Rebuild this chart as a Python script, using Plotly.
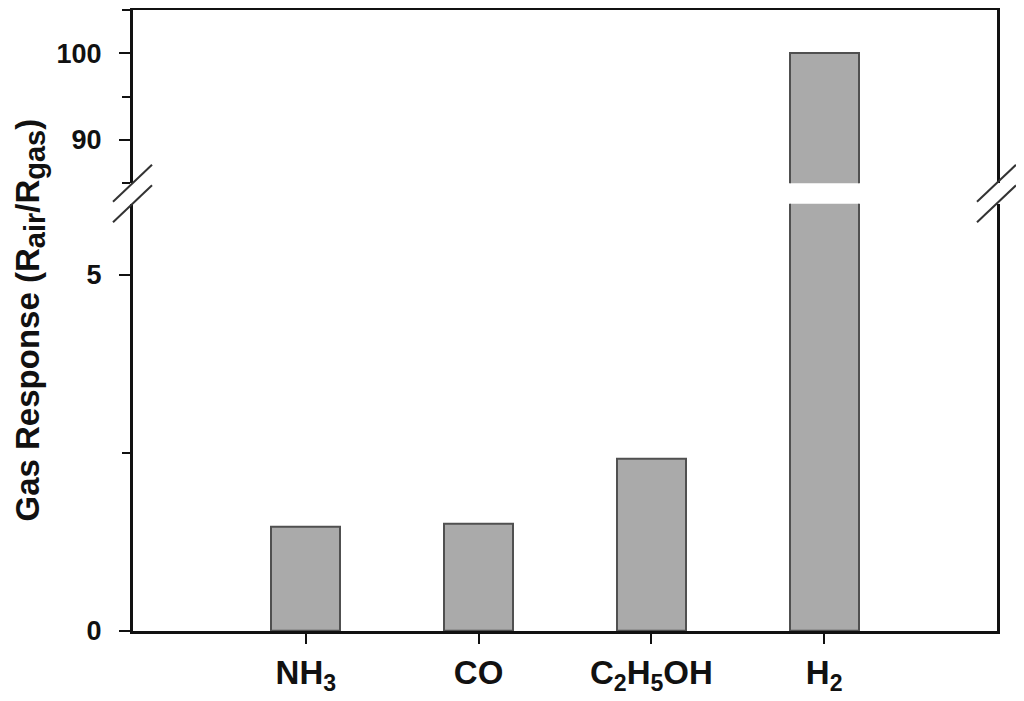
import plotly.graph_objects as go

# Data
categories = ["NH<sub>3</sub>", "CO", "C<sub>2</sub>H<sub>5</sub>OH", "H<sub>2</sub>"]
positions = [1, 2, 3, 4]
responses = [1.46, 1.51, 2.42, 100.0]

lower_range = [0, 6]
upper_range = [85, 105]
lower_ticks = [0, 5]
upper_ticks = [90, 100]

FONT = "Liberation Sans, Arial, Helvetica, sans-serif"
BAR_FILL = "#aaaaaa"
BAR_LINE = "#505050"
AXIS = "#111111"

# page has an 8px body margin; compensate so the plot lands where the reference is
W, H = 1016, 693
ML, MR, MT, MB = 125, 27, 2, 70
PW, PH = W - ML - MR, H - MT - MB

lower_top = 0.688
upper_bot = 0.721

fig = go.Figure()
for yax in ["y", "y2"]:
    fig.add_trace(go.Bar(
        x=positions, y=responses, width=0.4,
        marker=dict(color=BAR_FILL, line=dict(color=BAR_LINE, width=2)),
        xaxis="x" if yax == "y" else "x2", yaxis=yax, showlegend=False,
    ))

common_y = dict(
    showline=True, linecolor=AXIS, linewidth=3, mirror=True,
    ticks="outside", ticklen=11, tickwidth=2, tickcolor=AXIS,
    showgrid=False, zeroline=False,
    tickfont=dict(family=FONT, size=27, color="#111", weight="bold"),
    ticklabelstandoff=12,
)

fig.update_layout(
    width=W, height=H,
    margin=dict(l=ML, r=MR, t=MT, b=MB),
    plot_bgcolor="white", paper_bgcolor="white",
    xaxis=dict(
        domain=[0, 1], range=[0, 5], anchor="y",
        tickvals=positions, ticktext=categories,
        showline=True, linecolor=AXIS, linewidth=3,
        ticks="outside", ticklen=10, tickwidth=2, tickcolor=AXIS,
        showgrid=False, zeroline=False,
        tickfont=dict(family=FONT, size=33, color="#111", weight="bold"),
    ),
    xaxis2=dict(
        domain=[0, 1], range=[0, 5], anchor="y2", side="top",
        showline=True, linecolor=AXIS, linewidth=3,
        showticklabels=False, ticks="", showgrid=False, zeroline=False,
    ),
    yaxis=dict(domain=[0, lower_top], range=lower_range, tickvals=lower_ticks,
               minor=dict(dtick=2.5, ticks="outside", ticklen=8, tickwidth=2, tickcolor=AXIS),
               **common_y),
    yaxis2=dict(domain=[upper_bot, 1], range=upper_range, tickvals=upper_ticks,
                minor=dict(dtick=5, ticks="outside", ticklen=8, tickwidth=2, tickcolor=AXIS),
                **common_y),
    bargap=0,
)

# Y-axis title spanning both segments
sub_style = "font-size:29px"
fig.add_annotation(
    text=("Gas Response (R<sub><span style='%s'>air</span></sub>/R"
          "<sub><span style='%s'>gas</span></sub>)") % (sub_style, sub_style),
    xref="paper", yref="paper", x=(30 - 133) / PW, y=0.5,
    xanchor="center", yanchor="middle", textangle=-90, showarrow=False,
    font=dict(family=FONT, size=33, color="#111", weight="bold"),
)

# Axis break marks
dx1, dx2 = 20 / PW, 19 / PW
dy = 18.5 / PH
for xc in [0, 1]:
    for yc in [upper_bot, lower_top]:
        fig.add_shape(type="line", xref="paper", yref="paper",
                      x0=xc - dx1, y0=yc - dy, x1=xc + dx2, y1=yc + dy,
                      line=dict(color="#333333", width=2))

fig.write_html("out.html")
